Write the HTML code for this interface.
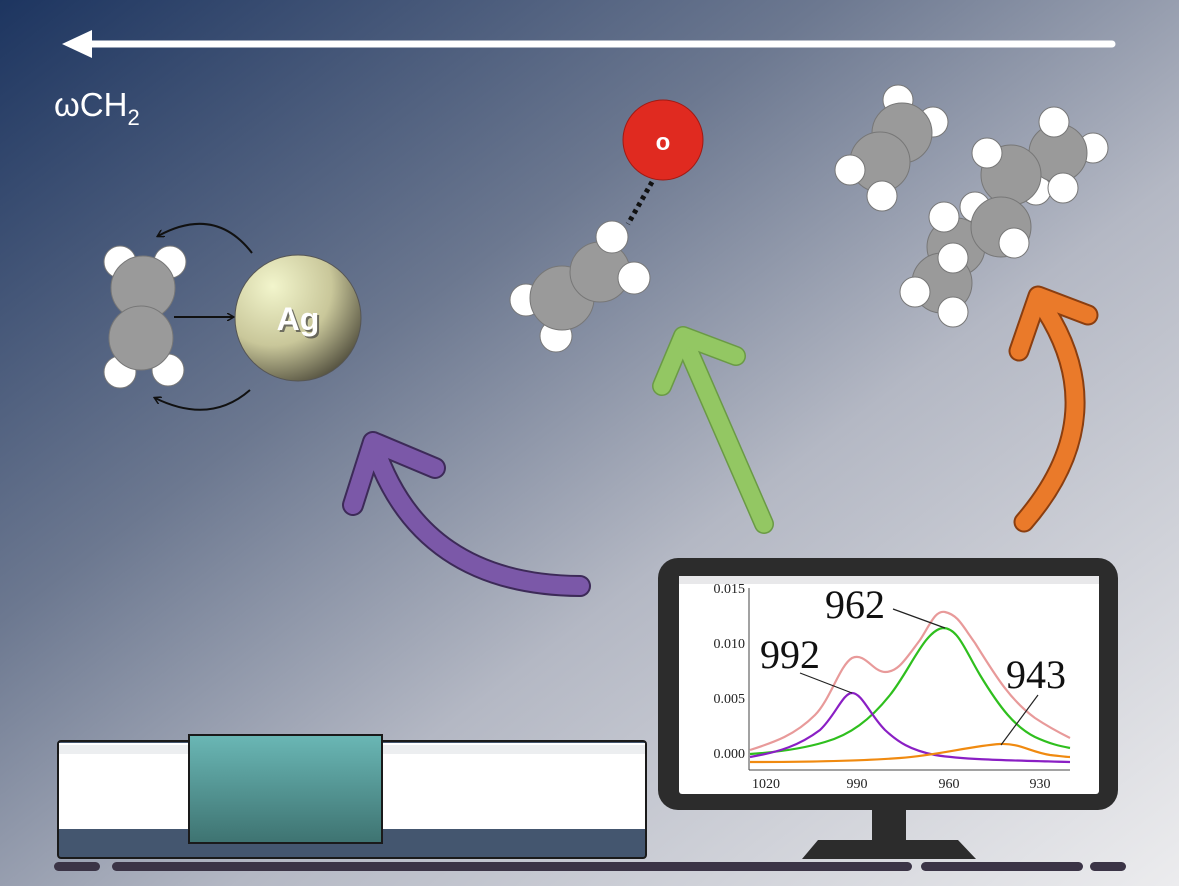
<!DOCTYPE html>
<html><head><meta charset="utf-8"><style>html,body{margin:0;padding:0;}svg{display:block;}</style></head>
<body>
<svg width="1179" height="886" viewBox="0 0 1179 886" xmlns="http://www.w3.org/2000/svg">
<defs>
<linearGradient id="bg" x1="0" y1="0" x2="1" y2="1">
<stop offset="0" stop-color="#1d3560"/>
<stop offset="0.35" stop-color="#6c7890"/>
<stop offset="0.6" stop-color="#b4b8c4"/>
<stop offset="1" stop-color="#ececee"/>
</linearGradient>
<radialGradient id="ag" cx="0.3" cy="0.25" r="0.85">
<stop offset="0" stop-color="#f2f5cc"/>
<stop offset="0.55" stop-color="#c9c79a"/>
<stop offset="1" stop-color="#4d4a3a"/>
</radialGradient>
<linearGradient id="teal" x1="0" y1="0" x2="0" y2="1">
<stop offset="0" stop-color="#6ab7b5"/>
<stop offset="1" stop-color="#3e7371"/>
</linearGradient>
<marker id="ah" markerWidth="8" markerHeight="8" refX="6" refY="4" orient="auto" markerUnits="userSpaceOnUse"><path d="M0,0 L7,4 L0,8" fill="none" stroke="#111" stroke-width="1.5"/></marker>
</defs>
<rect width="1179" height="886" fill="url(#bg)"/>

<line x1="1112" y1="44" x2="80" y2="44" stroke="#fff" stroke-width="7" stroke-linecap="round"/>
<polygon points="62,44 92,30 92,58" fill="#fff"/>
<text x="54" y="116" font-family="Liberation Sans, DejaVu Sans, sans-serif" font-size="33" fill="#fff">ωCH<tspan font-size="22" dy="9">2</tspan></text>

<g stroke="#777" stroke-width="1">
<circle cx="120" cy="262" r="16" fill="#fff"/>
<circle cx="170" cy="262" r="16" fill="#fff"/>
<circle cx="143" cy="288" r="32" fill="#9a9a9a"/>
<circle cx="120" cy="372" r="16" fill="#fff"/>
<circle cx="168" cy="370" r="16" fill="#fff"/>
<circle cx="141" cy="338" r="32" fill="#9a9a9a"/>
</g>
<path d="M252,253 Q215,205 158,236" fill="none" stroke="#111" stroke-width="2" marker-end="url(#ah)"/>
<line x1="174" y1="317" x2="233" y2="317" stroke="#111" stroke-width="2" marker-end="url(#ah)"/>
<path d="M250,390 Q210,425 155,398" fill="none" stroke="#111" stroke-width="2" marker-end="url(#ah)"/>
<circle cx="298" cy="318" r="63" fill="url(#ag)" stroke="#555" stroke-width="1"/>
<text x="300" y="332" text-anchor="middle" font-family="Liberation Sans, sans-serif" font-weight="700" font-size="32" fill="#444" opacity="0.7">Ag</text>
<text x="298" y="330" text-anchor="middle" font-family="Liberation Sans, sans-serif" font-weight="700" font-size="32" fill="#fff">Ag</text>

<circle cx="663" cy="140" r="40" fill="#e02a20" stroke="#a01a14" stroke-width="1"/>
<text x="663" y="150" text-anchor="middle" font-family="Liberation Sans, sans-serif" font-weight="bold" font-size="24" fill="#fff">o</text>
<line x1="652" y1="182" x2="628" y2="224" stroke="#111" stroke-width="5" stroke-dasharray="4,4"/>
<g stroke="#777" stroke-width="1">
<circle cx="526" cy="300" r="16" fill="#fff"/>
<circle cx="556" cy="336" r="16" fill="#fff"/>
<circle cx="562" cy="298" r="32" fill="#9a9a9a"/>
<circle cx="600" cy="272" r="30" fill="#9a9a9a"/>
<circle cx="612" cy="237" r="16" fill="#fff"/>
<circle cx="634" cy="278" r="16" fill="#fff"/>
</g>

<g stroke="#777" stroke-width="1">
<circle cx="898" cy="100" r="15" fill="#fff"/>
<circle cx="933" cy="122" r="15" fill="#fff"/>
<circle cx="902" cy="133" r="30" fill="#9a9a9a"/>
<circle cx="880" cy="162" r="30" fill="#9a9a9a"/>
<circle cx="850" cy="170" r="15" fill="#fff"/>
<circle cx="882" cy="196" r="15" fill="#fff"/>

<circle cx="1036" cy="190" r="15" fill="#fff"/>
<circle cx="975" cy="207" r="15" fill="#fff"/>
<circle cx="1093" cy="148" r="15" fill="#fff"/>
<circle cx="1058" cy="153" r="29" fill="#9a9a9a"/>
<circle cx="1054" cy="122" r="15" fill="#fff"/>
<circle cx="1063" cy="188" r="15" fill="#fff"/>
<circle cx="1011" cy="175" r="30" fill="#9a9a9a"/>
<circle cx="987" cy="153" r="15" fill="#fff"/>
<circle cx="956" cy="247" r="29" fill="#9a9a9a"/>
<circle cx="1001" cy="227" r="30" fill="#9a9a9a"/>
<circle cx="1014" cy="243" r="15" fill="#fff"/>
<circle cx="944" cy="217" r="15" fill="#fff"/>
<circle cx="942" cy="283" r="30" fill="#9a9a9a"/>
<circle cx="953" cy="258" r="15" fill="#fff"/>
<circle cx="915" cy="292" r="15" fill="#fff"/>
<circle cx="953" cy="312" r="15" fill="#fff"/>
</g>

<g fill="none" stroke-linecap="round" stroke-linejoin="round">
<g stroke="#3d2a58" stroke-width="22">
<path d="M580,586 Q420,585 374,446"/><path d="M353,505 L373,442 L435,468"/>
</g>
<g stroke="#7b58a8" stroke-width="18">
<path d="M580,586 Q420,585 374,446"/><path d="M353,505 L373,442 L435,468"/>
</g>
<g stroke="#6a9a45" stroke-width="20">
<path d="M764,524 L684,340"/><path d="M662,386 L683,336 L736,356"/>
</g>
<g stroke="#93c763" stroke-width="17">
<path d="M764,524 L684,340"/><path d="M662,386 L683,336 L736,356"/>
</g>
<g stroke="#8a3e10" stroke-width="21">
<path d="M1024,522 Q1118,413 1039,300"/><path d="M1019,351 L1038,296 L1088,315"/>
</g>
<g stroke="#ea7a2a" stroke-width="17">
<path d="M1024,522 Q1118,413 1039,300"/><path d="M1019,351 L1038,296 L1088,315"/>
</g>
</g>

<rect x="58" y="741" width="588" height="117" rx="3" fill="#44566f" stroke="#1a1a1a" stroke-width="2"/>
<rect x="59" y="743" width="586" height="86" fill="#fff"/>
<rect x="59" y="745" width="586" height="9" fill="#eceef0"/>
<rect x="189" y="735" width="193" height="108" fill="url(#teal)" stroke="#1a1a1a" stroke-width="2"/>

<g fill="#3b3446">
<rect x="54" y="862" width="46" height="9" rx="4.5"/>
<rect x="112" y="862" width="800" height="9" rx="4.5"/>
<rect x="921" y="862" width="162" height="9" rx="4.5"/>
<rect x="1090" y="862" width="36" height="9" rx="4.5"/>
</g>

<rect x="872" y="808" width="34" height="34" fill="#2c2c2c"/>
<polygon points="818,840 958,840 976,859 802,859" fill="#2c2c2c"/>
<rect x="658" y="558" width="460" height="252" rx="20" fill="#2c2c2c"/>
<rect x="679" y="576" width="420" height="218" rx="3" fill="#fff"/>
<rect x="679" y="576" width="420" height="8" fill="#e8e8ea"/>

<g font-family="Liberation Serif, serif" fill="#222">
<line x1="749" y1="588" x2="749" y2="770" stroke="#444" stroke-width="1"/>
<line x1="749" y1="770" x2="1070" y2="770" stroke="#444" stroke-width="1"/>
<text x="745" y="593" font-size="14" text-anchor="end">0.015</text>
<text x="745" y="648" font-size="14" text-anchor="end">0.010</text>
<text x="745" y="703" font-size="14" text-anchor="end">0.005</text>
<text x="745" y="758" font-size="14" text-anchor="end">0.000</text>
<text x="766" y="788" font-size="14" text-anchor="middle">1020</text>
<text x="857" y="788" font-size="14" text-anchor="middle">990</text>
<text x="949" y="788" font-size="14" text-anchor="middle">960</text>
<text x="1040" y="788" font-size="14" text-anchor="middle">930</text>
<text x="825" y="618" font-size="40" fill="#111">962</text>
<text x="760" y="668" font-size="40" fill="#111">992</text>
<text x="1006" y="688" font-size="40" fill="#111">943</text>
</g>
<g fill="none" stroke-width="2.2">
<path d="M750,750 C775,742 795,735 815,715 C830,700 840,665 852,658 C865,652 873,672 885,672 C898,672 905,660 920,640 C930,625 935,610 945,612 C958,615 962,625 975,643 C995,675 1010,700 1035,718 C1050,728 1060,733 1070,738" stroke="#e89a9a"/>
<path d="M750,754 C780,752 805,748 825,742 C850,735 870,720 890,695 C910,670 925,630 943,628 C958,628 965,650 980,675 C1000,708 1015,727 1035,737 C1050,744 1060,746 1070,748" stroke="#2fbf1e"/>
<path d="M750,757 C780,752 800,745 820,730 C835,716 843,693 852,693 C862,693 870,715 885,730 C898,742 910,750 935,755 C960,759 990,760 1070,762" stroke="#8a1fc4"/>
<path d="M750,762 C800,762 860,761 900,758 C940,755 970,746 1000,744 C1020,743 1030,752 1050,755 C1060,756 1065,757 1070,757" stroke="#f08a10"/>
</g>
<g stroke="#222" stroke-width="1.2">
<line x1="893" y1="609" x2="945" y2="628"/>
<line x1="800" y1="673" x2="852" y2="693"/>
<line x1="1038" y1="695" x2="1001" y2="745"/>
</g>
</svg>
</body></html>
